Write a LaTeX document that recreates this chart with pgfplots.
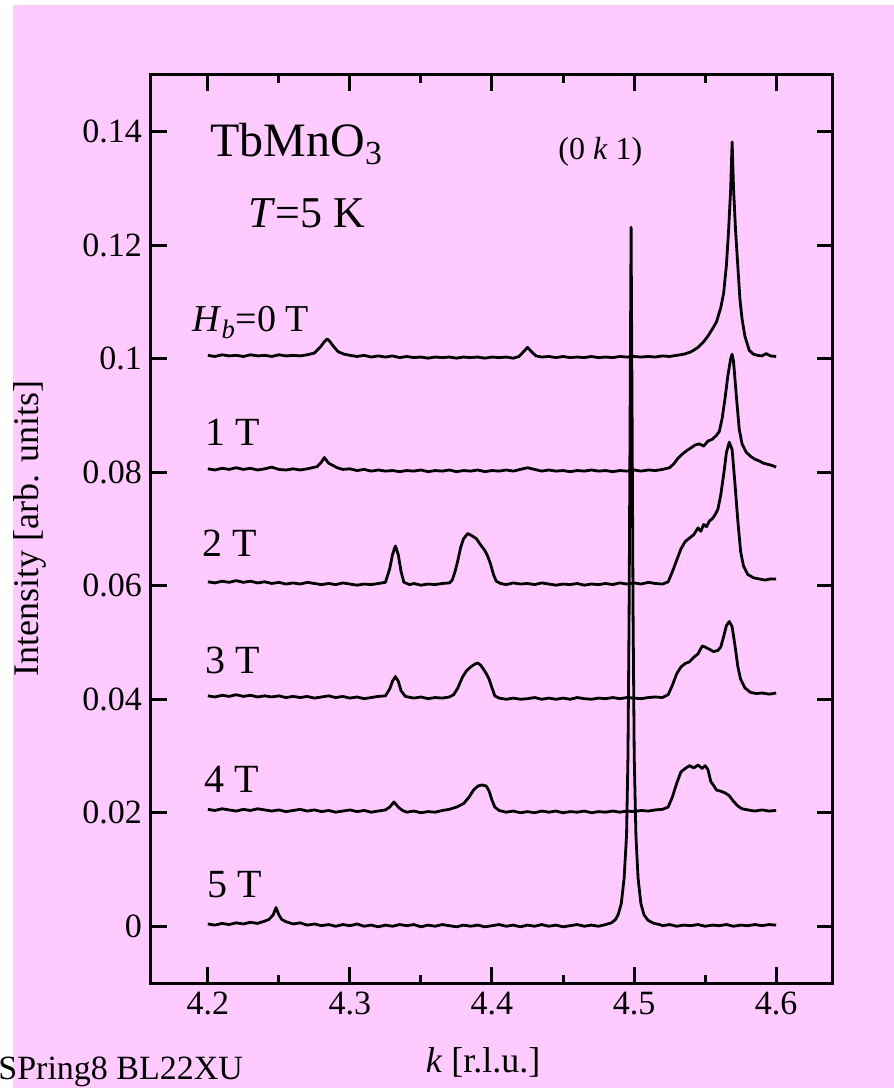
\documentclass[border=0pt]{standalone}
\usepackage{fontspec}
\setmainfont{Liberation Serif}
\usepackage{pgfplots}
\pgfplotsset{compat=1.18}
\definecolor{bgpink}{RGB}{255,202,255}
\pgfplotsset{curve/.style={black, line width=1.4pt, line join=round, mark=none, solid}}

\pgfplotstableread{
x y
4.200 .1006
4.205 .1004
4.210 .1007
4.215 .1005
4.220 .1006
4.225 .1004
4.230 .1007
4.235 .1005
4.240 .1006
4.245 .1004
4.250 .1007
4.255 .1005
4.260 .1006
4.265 .1005
4.270 .1007
4.275 .1010
4.279 .1020
4.282 .1030
4.284 .1035
4.286 .1030
4.289 .1020
4.292 .1012
4.296 .1008
4.300 .1006
4.305 .1004
4.310 .1006
4.315 .1003
4.320 .1005
4.325 .1003
4.330 .1005
4.335 .1002
4.340 .1004
4.345 .1002
4.350 .1003
4.355 .1001
4.360 .1003
4.365 .1002
4.370 .1003
4.375 .1001
4.380 .1003
4.385 .1002
4.390 .1003
4.395 .1001
4.400 .1003
4.405 .1002
4.410 .1003
4.415 .1001
4.419 .1004
4.422 .1012
4.425 .1020
4.428 .1012
4.431 .1005
4.435 .1003
4.440 .1004
4.445 .1002
4.450 .1004
4.455 .1002
4.460 .1003
4.465 .1002
4.470 .1004
4.475 .1002
4.480 .1003
4.485 .1002
4.490 .1004
4.495 .1003
4.500 .1004
4.505 .1003
4.510 .1004
4.515 .1003
4.520 .1005
4.525 .1004
4.530 .1006
4.535 .1008
4.540 .1012
4.545 .1020
4.549 .1030
4.552 .1040
4.555 .1052
4.558 .1065
4.561 .1090
4.563 .1115
4.565 .1165
4.5665 .1225
4.568 .1300
4.569 .1382
4.570 .1300
4.5715 .1223
4.573 .1164
4.5745 .1105
4.576 .1070
4.578 .1040
4.581 .1015
4.584 .1008
4.587 .1006
4.590 .1005
4.593 .1009
4.596 .1005
4.600 .1004
}\dataA

\pgfplotstableread{
x y
4.200 .0806
4.205 .0804
4.210 .0807
4.215 .0805
4.220 .0808
4.225 .0805
4.230 .0807
4.235 .0804
4.240 .0806
4.245 .0809
4.250 .0805
4.255 .0804
4.260 .0806
4.265 .0804
4.270 .0806
4.277 .0810
4.280 .0818
4.282 .0826
4.285 .0816
4.288 .0812
4.291 .0808
4.295 .0805
4.300 .0806
4.305 .0803
4.310 .0805
4.315 .0802
4.320 .0804
4.325 .0802
4.330 .0803
4.335 .0801
4.340 .0803
4.345 .0802
4.350 .0804
4.355 .0801
4.360 .0803
4.365 .0802
4.370 .0804
4.375 .0801
4.380 .0803
4.385 .0802
4.390 .0804
4.395 .0801
4.400 .0803
4.405 .0802
4.410 .0804
4.415 .0802
4.420 .0805
4.425 .0808
4.430 .0805
4.435 .0802
4.440 .0804
4.445 .0802
4.450 .0803
4.455 .0801
4.460 .0803
4.465 .0802
4.470 .0804
4.475 .0802
4.480 .0803
4.485 .0801
4.490 .0803
4.495 .0802
4.500 .0804
4.505 .0802
4.510 .0804
4.515 .0803
4.520 .0805
4.525 .0808
4.528 .0815
4.531 .0825
4.534 .0832
4.537 .0838
4.540 .0843
4.543 .0848
4.546 .0850
4.549 .0846
4.552 .0855
4.555 .0858
4.558 .0865
4.560 .0872
4.562 .0895
4.564 .0930
4.566 .0970
4.568 .1000
4.569 .1008
4.570 .0995
4.572 .0934
4.574 .0876
4.576 .0850
4.579 .0835
4.582 .0828
4.585 .0823
4.588 .0820
4.591 .0816
4.594 .0814
4.597 .0812
4.600 .0809
}\dataB

\pgfplotstableread{
x y
4.200 .0607
4.205 .0605
4.210 .0608
4.215 .0606
4.220 .0609
4.225 .0606
4.230 .0608
4.235 .0605
4.240 .0607
4.245 .0604
4.250 .0606
4.255 .0603
4.260 .0605
4.265 .0603
4.270 .0606
4.275 .0604
4.280 .0602
4.285 .0604
4.290 .0602
4.295 .0605
4.300 .0603
4.305 .0601
4.310 .0603
4.315 .0602
4.320 .0604
4.325 .0606
4.328 .0630
4.330 .0655
4.332 .0670
4.334 .0655
4.336 .0625
4.338 .0606
4.342 .0602
4.345 .0604
4.350 .0601
4.355 .0603
4.360 .0602
4.365 .0604
4.370 .0605
4.372 .0610
4.374 .0625
4.376 .0645
4.378 .0668
4.380 .0683
4.383 .0692
4.386 .0688
4.389 .0683
4.392 .0672
4.395 .0662
4.397 .0652
4.399 .0638
4.401 .0620
4.403 .0608
4.406 .0604
4.410 .0602
4.415 .0605
4.420 .0603
4.425 .0604
4.430 .0602
4.435 .0605
4.440 .0603
4.445 .0601
4.450 .0603
4.455 .0602
4.460 .0604
4.465 .0601
4.470 .0603
4.475 .0602
4.480 .0604
4.485 .0602
4.490 .0605
4.495 .0603
4.500 .0605
4.505 .0603
4.510 .0606
4.515 .0604
4.520 .0603
4.524 .0607
4.527 .0625
4.530 .0645
4.533 .0665
4.536 .0678
4.539 .0684
4.542 .0690
4.545 .0702
4.547 .0696
4.549 .0708
4.551 .0704
4.553 .0714
4.555 .0718
4.557 .0725
4.559 .0735
4.561 .0760
4.563 .0795
4.565 .0835
4.567 .0853
4.569 .0840
4.571 .0780
4.573 .0715
4.575 .0660
4.577 .0635
4.580 .0620
4.584 .0614
4.588 .0612
4.592 .0610
4.596 .0612
4.600 .0612
}\dataC

\pgfplotstableread{
x y
4.200 .0406
4.205 .0404
4.210 .0407
4.215 .0405
4.220 .0408
4.225 .0405
4.230 .0407
4.235 .0404
4.240 .0406
4.245 .0404
4.250 .0406
4.255 .0403
4.260 .0405
4.265 .0403
4.270 .0405
4.275 .0402
4.280 .0404
4.285 .0406
4.290 .0403
4.295 .0405
4.300 .0402
4.305 .0404
4.310 .0401
4.315 .0403
4.320 .0405
4.325 .0406
4.328 .0418
4.330 .0432
4.332 .0440
4.334 .0432
4.336 .0415
4.339 .0405
4.345 .0402
4.350 .0404
4.355 .0401
4.360 .0403
4.365 .0402
4.370 .0404
4.373 .0408
4.376 .0420
4.379 .0438
4.382 .0450
4.385 .0457
4.388 .0462
4.390 .0464
4.392 .0460
4.394 .0453
4.396 .0445
4.398 .0435
4.400 .0420
4.402 .0406
4.405 .0402
4.410 .0400
4.415 .0402
4.420 .0400
4.425 .0401
4.430 .0403
4.435 .0400
4.440 .0402
4.445 .0400
4.450 .0402
4.455 .0400
4.460 .0403
4.465 .0401
4.470 .0400
4.475 .0402
4.480 .0401
4.485 .0403
4.490 .0401
4.495 .0403
4.500 .0402
4.505 .0401
4.510 .0403
4.515 .0404
4.520 .0403
4.524 .0408
4.527 .0425
4.530 .0445
4.533 .0457
4.536 .0463
4.539 .0466
4.542 .0474
4.545 .0480
4.548 .0494
4.550 .0492
4.553 .0488
4.556 .0484
4.559 .0486
4.561 .0492
4.563 .0510
4.565 .0530
4.567 .0537
4.569 .0528
4.571 .0495
4.573 .0458
4.575 .0435
4.578 .0420
4.582 .0412
4.586 .0410
4.590 .0411
4.595 .0409
4.600 .0411
}\dataD

\pgfplotstableread{
x y
4.200 .0206
4.205 .0204
4.210 .0207
4.215 .0205
4.220 .0203
4.225 .0206
4.230 .0204
4.235 .0207
4.240 .0205
4.245 .0203
4.250 .0205
4.255 .0202
4.260 .0204
4.265 .0206
4.270 .0203
4.275 .0205
4.280 .0202
4.285 .0204
4.290 .0201
4.295 .0203
4.300 .0205
4.305 .0202
4.310 .0204
4.315 .0201
4.320 .0203
4.325 .0205
4.328 .0210
4.331 .0219
4.334 .0210
4.337 .0204
4.340 .0201
4.345 .0203
4.350 .0200
4.355 .0202
4.360 .0201
4.365 .0204
4.370 .0206
4.375 .0210
4.380 .0216
4.384 .0228
4.387 .0240
4.390 .0247
4.393 .0249
4.396 .0247
4.398 .0238
4.400 .0222
4.402 .0210
4.405 .0204
4.410 .0201
4.415 .0203
4.420 .0200
4.425 .0202
4.430 .0200
4.435 .0203
4.440 .0201
4.445 .0203
4.450 .0200
4.455 .0202
4.460 .0201
4.465 .0203
4.470 .0200
4.475 .0202
4.480 .0201
4.485 .0203
4.490 .0201
4.495 .0203
4.500 .0202
4.505 .0204
4.510 .0203
4.515 .0205
4.520 .0206
4.524 .0210
4.527 .0228
4.530 .0252
4.533 .0272
4.536 .0278
4.539 .0283
4.542 .0279
4.545 .0284
4.548 .0278
4.550 .0283
4.552 .0276
4.554 .0255
4.556 .0248
4.558 .0240
4.561 .0238
4.564 .0235
4.567 .0230
4.570 .0220
4.573 .0212
4.576 .0207
4.580 .0205
4.585 .0203
4.590 .0205
4.595 .0203
4.600 .0204
}\dataE

\pgfplotstableread{
x y
4.200 .0004
4.205 .0002
4.210 .0005
4.215 .0003
4.220 .0006
4.225 .0004
4.230 .0007
4.235 .0005
4.240 .0009
4.243 .0012
4.246 .0020
4.248 .0033
4.250 .0020
4.252 .0012
4.255 .0008
4.260 .0004
4.265 .0006
4.270 .0002
4.275 .0004
4.280 .0001
4.285 .0003
4.290 .0000
4.295 .0003
4.300 .0001
4.305 .0004
4.310 .0000
4.315 .0002
4.320 -.0001
4.325 .0002
4.330 .0000
4.335 .0003
4.340 .0001
4.345 .0003
4.350 -.0001
4.355 .0002
4.360 .0000
4.365 .0003
4.370 .0001
4.375 -.0001
4.380 .0002
4.385 .0000
4.390 .0002
4.395 -.0001
4.400 .0001
4.405 .0003
4.410 .0000
4.415 .0002
4.420 -.0001
4.425 .0002
4.430 .0000
4.435 .0003
4.440 .0000
4.445 .0002
4.450 -.0001
4.455 .0001
4.460 .0003
4.465 .0000
4.470 .0002
4.475 .0000
4.480 .0003
4.484 .0006
4.487 .0012
4.489 .0022
4.491 .0040
4.493 .0085
4.4947 .0160
4.4957 .0300
4.4965 .0550
4.4972 .0900
4.4979 .1232
4.4986 .0900
4.4993 .0550
4.5001 .0300
4.5013 .0160
4.5028 .0085
4.5048 .0040
4.507 .0020
4.510 .0010
4.514 .0005
4.518 .0003
4.520 .0001
4.525 .0003
4.530 .0000
4.535 .0002
4.540 .0001
4.545 .0003
4.550 .0000
4.555 .0002
4.560 .0001
4.565 .0003
4.570 .0000
4.575 .0002
4.580 .0001
4.585 .0003
4.590 .0001
4.595 .0003
4.600 .0002
}\dataF

\begin{document}
\begin{tikzpicture}
\useasboundingbox (0,0) rectangle (447pt,544pt);
\clip (0,0) rectangle (447pt,544pt);
\fill[white] (0,0) rectangle (447pt,544pt);
\fill[bgpink] (6.5pt,0) rectangle (447pt,541.5pt);
\begin{axis}[
  at={(75.5pt,52.5pt)}, anchor=south west,
  scale only axis, width=341pt, height=454pt,
  xmin=4.16, xmax=4.64, ymin=-0.01, ymax=0.15,
  axis line style={line width=1.5pt},
  every tick/.style={black, line width=1.5pt},
  tick align=inside,
  major tick length=8pt, minor tick length=4pt,
  xtick={4.2,4.3,4.4,4.5,4.6},
  xticklabels={4.2,4.3,4.4,4.5,4.6},
  minor xtick={4.25,4.35,4.45,4.55},
  ytick={0,0.02,0.04,0.06,0.08,0.1,0.12,0.14},
  yticklabels={0,0.02,0.04,0.06,0.08,0.1,0.12,0.14},
  ticklabel style={font=\fontsize{17}{20}\selectfont},
  xticklabel style={yshift=-1pt},
  yticklabel style={xshift=-1pt},
  xlabel={\textit{k} [r.l.u.]},
  ylabel={Intensity [arb. units]},
  label style={font=\fontsize{18}{21}\selectfont},
  xlabel style={at={(axis description cs:0.487,-0.088)}, anchor=center},
  ylabel style={at={(axis description cs:-0.177,0.501)}, anchor=center},
]
\addplot[curve] table[x=x,y=y] {\dataA};
\addplot[curve] table[x=x,y=y] {\dataB};
\addplot[curve] table[x=x,y=y] {\dataC};
\addplot[curve] table[x=x,y=y] {\dataD};
\addplot[curve] table[x=x,y=y] {\dataE};
\addplot[curve] table[x=x,y=y] {\dataF};
\end{axis}
\begin{scope}[every node/.style={inner sep=0pt, anchor=base west}]
\node[font=\fontsize{24}{28}\selectfont] at (105pt,465.5pt) {TbMnO\textsubscript{3}};
\node[font=\fontsize{22}{26}\selectfont] at (124pt,430pt) {\textit{T}=5 K};
\node[font=\fontsize{16}{19}\selectfont] at (279pt,464pt) {(0 \textit{k} 1)};
\node[font=\fontsize{19}{22}\selectfont] at (96pt,378pt) {\textit{H}\textsubscript{\textit{b}}=0 T};
\node[font=\fontsize{20}{24}\selectfont] at (102.5pt,321pt) {1 T};
\node[font=\fontsize{20}{24}\selectfont] at (101pt,265.5pt) {2 T};
\node[font=\fontsize{20}{24}\selectfont] at (102.5pt,207pt) {3 T};
\node[font=\fontsize{20}{24}\selectfont] at (102pt,147.5pt) {4 T};
\node[font=\fontsize{20}{24}\selectfont] at (103.5pt,95pt) {5 T};
\node[font=\fontsize{17}{20}\selectfont] at (-1pt,4.2pt) {SPring8 BL22XU};
\end{scope}
\end{tikzpicture}
\end{document}
